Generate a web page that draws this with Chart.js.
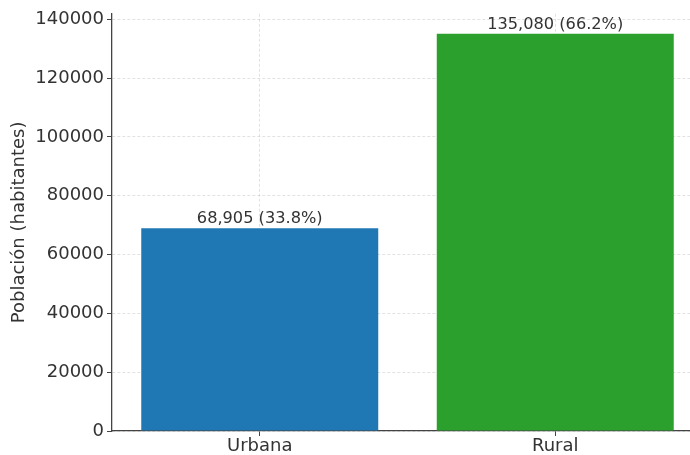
<!DOCTYPE html>
<html>
<head>
<meta charset="utf-8">
<script src="https://cdn.jsdelivr.net/npm/chart.js@4/dist/chart.umd.min.js"></script>
<style>
  html, body { margin: 0; padding: 0; background: #fff; overflow: hidden; }
  #wrap { width: 706px; height: 455px; }
</style>
</head>
<body>
<div id="wrap"><canvas id="grafico"></canvas></div>
<script>
// Datos
const categorias = ['Urbana', 'Rural'];
const poblacion = [68905, 135080];
const porcentajes = [33.8, 66.2];
const colores = ['#1f77b4', '#2ca02c'];
const yTicks = [0, 20000, 40000, 60000, 80000, 100000, 120000, 140000];
const yMax = 141834;

const fuente = 'DejaVu Sans, sans-serif';

// Etiquetas sobre las barras
const etiquetasBarras = {
    id: 'etiquetasBarras',
    afterDatasetsDraw(chart) {
        const ctx = chart.ctx;
        const meta = chart.getDatasetMeta(0);
        ctx.save();
        ctx.font = '16.2px ' + fuente;
        ctx.fillStyle = '#333';
        ctx.textAlign = 'center';
        ctx.textBaseline = 'bottom';
        meta.data.forEach((bar, i) => {
            const txt = poblacion[i].toLocaleString('en-US') + ' (' + porcentajes[i].toFixed(1) + '%)';
            ctx.fillText(txt, bar.x, bar.y - 1);
        });
        ctx.restore();
    }
};

new Chart(document.getElementById('grafico'), {
    type: 'bar',
    data: {
        labels: categorias,
        datasets: [{
            data: poblacion,
            backgroundColor: colores,
            borderWidth: 0,
            barPercentage: 0.802,
            categoryPercentage: 1
        }]
    },
    options: {
        responsive: true,
        maintainAspectRatio: false,
        animation: false,
        layout: { padding: { top: 12, right: 3, left: 0, bottom: 0 } },
        plugins: {
            legend: { display: false },
            tooltip: { enabled: false }
        },
        scales: {
            x: {
                z: 1,
                offset: true,
                afterFit: scale => { scale.height = 24; },
                grid: {
                    offset: false,
                    color: 'rgba(190,190,190,0.45)',
                    tickColor: '#444',
                    tickLength: 5,
                    tickBorderDash: []
                },
                border: { color: '#444', width: 1.3, dash: [3, 2] },
                ticks: { color: '#333', font: { family: fuente, size: 18 }, padding: 0 }
            },
            y: {
                z: 1,
                min: 0,
                max: yMax,
                afterBuildTicks: scale => { scale.ticks = yTicks.map(v => ({ value: v })); },
                afterFit: scale => { scale.width = 112; },
                grid: {
                    color: 'rgba(190,190,190,0.45)',
                    tickColor: '#444',
                    tickLength: 5,
                    tickBorderDash: []
                },
                border: { color: '#444', width: 1.3, dash: [3, 2] },
                ticks: {
                    color: '#333',
                    font: { family: fuente, size: 18 },
                    padding: 3,
                    callback: v => String(v)
                },
                title: {
                    display: true,
                    text: 'Población (habitantes)',
                    color: '#333',
                    font: { family: fuente, size: 18 },
                    padding: { top: 9, bottom: 0 }
                }
            }
        }
    },
    plugins: [etiquetasBarras]
});
</script>
</body>
</html>
